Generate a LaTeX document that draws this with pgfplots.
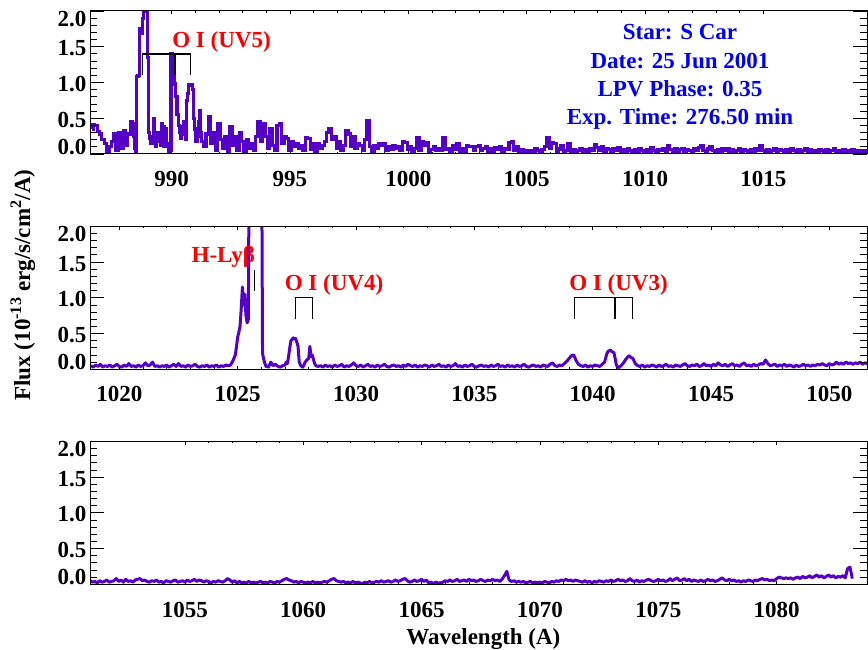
\documentclass[border=0pt]{standalone}
\usepackage{fontspec}
\setmainfont{Liberation Serif}
\usepackage{pgfplots}
\pgfplotsset{compat=1.18}
\definecolor{spec}{RGB}{85,0,200}
\newcommand\F{\fontsize{23bp}{27bp}\selectfont\bfseries}
\tikzset{brk/.style={black, line width=1.3bp}}
\pgfplotsset{
 panelA/.style={scale only axis, width=777bp, height=143bp, ymin=0, ymax=2,
   ytick=\empty, minor x tick num=4, major tick length=3.5bp, minor tick length=2bp,
   axis line style={line width=1bp}, tick style={black,line width=0.8bp},
   xticklabel style={font=\F, anchor=base, yshift=-32.7bp}},
 panelB/.style={scale only axis, width=777bp, height=143bp, ymin=0, ymax=2,
   xtick=\empty, ytick={0,0.5,1,1.5,2},
   yticklabels={\raisebox{9bp}[\height][\depth]{0.0},0.5,1.0,1.5,\raisebox{-6.5bp}[\height][\depth]{2.0}},
   minor y tick num=4, major tick length=14bp, minor tick length=7bp,
   axis line style={line width=1bp}, tick style={black,line width=0.8bp},
   yticklabel style={font=\F, yshift=-1.7bp}},
 spec1/.style={color=spec, line width=3.2bp, const plot mark mid},
 spec2/.style={color=spec, line width=3.0bp, line join=round}
}
\begin{document}
\begin{tikzpicture}
\useasboundingbox (0,0) rectangle (868bp,650bp);
% ---------------- Panel 1 ----------------
\begin{axis}[panelA, at={(90bp,496bp)}, anchor=south west, xmin=986.55, xmax=1019.38,
  xtick={990,995,1000,1005,1010,1015}, xticklabels={990,995,1000,1005,1010,1015}]
\addplot[spec1] coordinates {
(986.65,0.35)(986.7,0.41)(986.8,0.40)(986.9,0.32)(987.0,0.28)(987.1,0.20)(987.2,0.15)(987.3,0.02)(987.4,0.10)(987.5,0.18)
(987.6,0.29)(987.7,0.05)(987.8,0.30)(987.9,0.08)(988.0,0.33)(988.1,0.12)(988.2,0.28)(988.3,0.45)(988.35,0.42)(988.4,0.25)
(988.45,0.08)(988.5,0.02)(988.55,1.08)(988.6,1.10)(988.65,1.75)(988.7,1.72)(988.75,1.68)(988.8,1.90)(988.85,2.05)(988.9,2.10)
(988.95,2.00)(989.0,1.35)(989.05,0.30)(989.1,0.22)(989.15,0.15)(989.2,0.25)(989.25,0.50)(989.3,0.20)(989.35,0.10)(989.4,0.30)
(989.45,0.28)(989.5,0.18)(989.55,0.12)(989.6,0.42)(989.65,0.38)(989.7,0.10)(989.75,0.35)(989.8,0.15)(989.85,0.10)(989.9,0.02)
(989.95,0.05)(990.0,1.40)(990.05,1.38)(990.1,1.15)(990.15,0.98)(990.2,0.80)(990.25,0.55)(990.3,0.40)(990.35,0.30)(990.4,0.22)
(990.45,0.38)(990.5,0.28)(990.55,0.45)(990.6,0.20)(990.65,0.75)(990.7,0.85)(990.75,0.97)(990.8,0.96)(990.85,0.97)(990.9,0.90)
(990.95,0.50)(991.0,0.35)(991.05,0.18)(991.1,0.25)(991.15,0.45)(991.2,0.60)(991.25,0.30)(991.3,0.18)
(991.4,0.10)(991.5,0.28)(991.6,0.52)(991.7,0.15)(991.8,0.30)(991.9,0.05)(992.0,0.43)(992.1,0.20)(992.2,0.08)(992.3,0.25)
(992.4,0.02)(992.5,0.38)(992.6,0.12)(992.7,0.25)(992.8,0.05)(992.9,0.30)(993.0,0.18)(993.1,0.00)(993.2,0.20)(993.3,0.08)
(993.4,0.15)(993.5,0.05)(993.6,0.25)(993.7,0.45)(993.8,0.18)(993.9,0.42)(994.0,0.25)(994.1,0.08)(994.2,0.35)(994.3,0.12)
(994.4,0.05)(994.5,0.40)(994.6,0.43)(994.7,0.15)(994.8,0.25)(994.9,0.22)(995.0,0.05)(995.1,0.18)(995.2,0.10)(995.3,0.15)
(995.4,0.08)(995.5,0.12)(995.6,0.05)(995.7,0.23)(995.8,0.22)(995.9,0.06)(996.0,0.14)(996.1,0.03)(996.2,0.15)(996.3,0.08)
(996.4,0.12)(996.5,0.18)(996.6,0.30)(996.7,0.35)(996.8,0.20)(996.9,0.25)(997.0,0.08)(997.1,0.18)(997.2,0.05)(997.3,0.12)
(997.4,0.33)(997.5,0.28)(997.6,0.10)(997.7,0.25)(997.8,0.08)(997.9,0.15)(998.0,0.12)(998.1,0.05)(998.2,0.20)(998.3,0.47)
(998.4,0.10)(998.5,0.03)(998.6,0.12)(998.7,0.08)(998.8,0.15)(998.9,0.12)(999.0,0.14)(999.1,0.05)(999.2,0.10)(999.3,0.06)
(999.4,0.12)(999.5,0.08)(999.6,0.10)(999.7,0.05)(999.8,0.17)(999.9,0.16)(1000.0,0.06)(1000.1,0.10)(1000.2,0.04)(1000.3,0.08)
(1000.4,0.23)(1000.5,0.05)(1000.6,0.17)(1000.7,0.12)(1000.8,0.16)(1000.9,0.04)(1001.0,0.06)(1001.1,0.10)(1001.2,0.05)(1001.3,0.08)
(1001.4,0.05)(1001.5,0.23)(1001.6,0.06)(1001.7,0.08)(1001.8,0.03)(1001.9,0.12)(1002.0,0.06)(1002.1,0.15)(1002.2,0.04)(1002.3,0.07)
(1002.4,0.03)(1002.5,0.12)(1002.6,0.10)(1002.7,0.11)(1002.8,0.05)(1002.9,0.10)(1003.0,0.12)(1003.1,0.05)(1003.2,0.08)(1003.3,0.10)
(1003.4,0.04)(1003.5,0.07)(1003.6,0.03)(1003.7,0.09)(1003.8,0.06)(1003.9,0.10)(1004.0,0.04)(1004.1,0.08)(1004.2,0.06)(1004.3,0.16)
(1004.4,0.17)(1004.5,0.05)(1004.6,0.10)(1004.7,0.04)(1004.8,0.06)(1004.9,0.03)(1005.0,0.05)(1005.1,0.02)(1005.2,0.05)(1005.3,0.04)
(1005.4,0.08)(1005.5,0.05)(1005.6,0.03)(1005.7,0.06)(1005.8,0.10)(1005.9,0.23)(1006.0,0.08)(1006.1,0.16)(1006.2,0.15)(1006.3,0.04)
(1006.4,0.07)(1006.5,0.12)(1006.6,0.03)(1006.7,0.05)(1006.8,0.14)(1006.9,0.04)(1007.0,0.06)(1007.1,0.03)(1007.2,0.05)(1007.3,0.08)
(1007.4,0.04)(1007.5,0.06)(1007.6,0.02)(1007.7,0.07)(1007.8,0.05)(1007.9,0.13)(1008.0,0.09)(1008.1,0.05)(1008.2,0.10)(1008.3,0.04)
(1008.4,0.08)(1008.5,0.06)(1008.6,0.03)(1008.7,0.07)(1008.8,0.05)(1008.9,0.09)(1009.0,0.04)(1009.1,0.06)(1009.2,0.03)(1009.3,0.07)
(1009.4,0.05)(1009.5,0.02)(1009.6,0.06)(1009.7,0.04)(1009.8,0.08)(1009.9,0.05)(1010.0,0.03)(1010.1,0.06)(1010.2,0.04)(1010.3,0.09)
(1010.4,0.05)(1010.5,0.03)(1010.6,0.06)(1010.7,0.05)(1010.8,0.08)(1010.9,0.04)(1011.0,0.12)(1011.1,0.06)(1011.2,0.04)(1011.3,0.07)
(1011.4,0.03)(1011.5,0.06)(1011.6,0.08)(1011.7,0.04)(1011.8,0.06)(1011.9,0.05)(1012.0,0.03)(1012.1,0.07)(1012.2,0.05)(1012.3,0.09)
(1012.4,0.12)(1012.5,0.05)(1012.6,0.04)(1012.7,0.07)(1012.8,0.10)(1012.9,0.05)(1013.0,0.03)(1013.1,0.06)(1013.2,0.04)(1013.3,0.07)
(1013.4,0.05)(1013.5,0.08)(1013.6,0.04)(1013.7,0.06)(1013.8,0.03)(1013.9,0.05)(1014.0,0.07)(1014.1,0.04)(1014.2,0.06)(1014.3,0.05)
(1014.4,0.03)(1014.5,0.06)(1014.6,0.04)(1014.7,0.08)(1014.8,0.05)(1014.9,0.12)(1015.0,0.05)(1015.1,0.04)(1015.2,0.06)(1015.3,0.03)
(1015.4,0.05)(1015.5,0.07)(1015.6,0.04)(1015.7,0.06)(1015.8,0.05)(1015.9,0.03)(1016.0,0.06)(1016.1,0.04)(1016.2,0.07)(1016.3,0.05)
(1016.4,0.03)(1016.5,0.06)(1016.6,0.04)(1016.7,0.05)(1016.8,0.07)(1016.9,0.04)(1017.0,0.06)(1017.1,0.03)(1017.2,0.05)(1017.3,0.04)
(1017.4,0.06)(1017.5,0.05)(1017.6,0.03)(1017.7,0.06)(1017.8,0.04)(1017.9,0.05)(1018.0,0.07)(1018.1,0.04)(1018.2,0.05)(1018.3,0.03)
(1018.4,0.06)(1018.5,0.04)(1018.6,0.05)(1018.7,0.03)(1018.8,0.06)(1018.9,0.04)(1019.0,0.05)(1019.1,0.03)(1019.2,0.05)(1019.3,0.04)(1019.4,0.05)
};
\draw[brk] (axis cs:988.78,1.10) -- (axis cs:988.78,1.40) -- (axis cs:990.80,1.40) -- (axis cs:990.80,1.10);
\draw[brk] (axis cs:990.14,1.40) -- (axis cs:990.14,1.10);
\end{axis}
\begin{axis}[panelB, at={(90bp,496bp)}, anchor=south west, xmin=986.55, xmax=1019.38]
\end{axis}
% ---------------- Panel 2 ----------------
\begin{axis}[panelA, at={(90bp,280.7bp)}, anchor=south west, xmin=1018.76, xmax=1051.59,
  xtick={1020,1025,1030,1035,1040,1045,1050}, xticklabels={1020,1025,1030,1035,1040,1045,1050}]
\addplot[spec2] coordinates {
(1018.8,0.05)(1018.9,0.03)(1019.0,0.06)(1019.1,0.04)(1019.2,0.07)(1019.3,0.03)(1019.4,0.05)(1019.5,0.04)(1019.6,0.06)(1019.7,0.03)
(1019.8,0.05)(1019.9,0.07)(1020.0,0.04)(1020.1,0.03)(1020.2,0.06)(1020.3,0.04)(1020.4,0.08)(1020.5,0.04)(1020.6,0.05)(1020.7,0.03)
(1020.8,0.06)(1020.9,0.04)(1021.0,0.05)(1021.1,0.09)(1021.2,0.05)(1021.3,0.06)(1021.4,0.10)(1021.5,0.04)(1021.6,0.05)(1021.7,0.03)
(1021.8,0.05)(1021.9,0.04)(1022.0,0.06)(1022.1,0.03)(1022.2,0.05)(1022.3,0.07)(1022.4,0.04)(1022.5,0.08)(1022.6,0.04)(1022.7,0.05)
(1022.8,0.03)(1022.9,0.06)(1023.0,0.04)(1023.1,0.05)(1023.2,0.07)(1023.3,0.04)(1023.4,0.03)(1023.5,0.05)(1023.6,0.04)(1023.7,0.06)
(1023.8,0.03)(1023.9,0.05)(1024.0,0.04)(1024.1,0.06)(1024.2,0.03)(1024.3,0.05)(1024.4,0.04)(1024.5,0.06)(1024.6,0.05)(1024.7,0.06)
(1024.75,0.09)(1024.8,0.12)(1024.85,0.16)(1024.9,0.20)(1024.95,0.32)(1025.0,0.45)(1025.05,0.52)(1025.1,0.60)(1025.15,0.85)(1025.2,1.15)
(1025.25,0.90)(1025.3,1.05)(1025.35,0.75)(1025.4,0.65)(1025.45,0.70)(1025.5,4.0)(1025.75,4.0)(1026.0,4.0)(1026.05,0.22)(1026.1,0.14)
(1026.15,0.08)(1026.2,0.04)(1026.25,0.05)(1026.3,0.03)(1026.4,0.10)(1026.5,0.05)(1026.6,0.07)(1026.7,0.04)(1026.8,0.03)(1026.9,0.05)
(1027.0,0.06)(1027.05,0.10)(1027.1,0.08)(1027.15,0.18)(1027.2,0.30)(1027.25,0.40)(1027.3,0.42)(1027.35,0.44)(1027.4,0.42)(1027.45,0.43)
(1027.5,0.38)(1027.55,0.32)(1027.6,0.10)(1027.65,0.06)(1027.7,0.04)(1027.75,0.03)(1027.8,0.06)(1027.85,0.10)(1027.9,0.12)(1027.95,0.14)
(1028.0,0.15)(1028.05,0.32)(1028.1,0.18)(1028.15,0.20)(1028.2,0.14)(1028.25,0.08)(1028.3,0.05)(1028.4,0.04)(1028.5,0.05)
(1028.6,0.03)(1028.7,0.06)(1028.8,0.04)(1028.9,0.05)(1029.0,0.03)(1029.1,0.06)(1029.2,0.04)(1029.3,0.05)(1029.4,0.07)(1029.5,0.03)
(1029.6,0.05)(1029.7,0.04)(1029.8,0.06)(1029.9,0.09)(1030.0,0.05)(1030.1,0.04)(1030.2,0.06)(1030.3,0.03)(1030.4,0.05)(1030.5,0.07)
(1030.6,0.04)(1030.7,0.05)(1030.8,0.03)(1030.9,0.06)(1031.0,0.04)(1031.1,0.05)(1031.2,0.07)(1031.3,0.04)(1031.4,0.03)(1031.5,0.05)
(1031.6,0.06)(1031.7,0.04)(1031.8,0.05)(1031.9,0.03)(1032.0,0.06)(1032.1,0.04)(1032.2,0.07)(1032.3,0.05)(1032.4,0.04)(1032.5,0.06)
(1032.6,0.03)(1032.7,0.05)(1032.8,0.04)(1032.9,0.06)(1033.0,0.05)(1033.1,0.03)(1033.2,0.06)(1033.3,0.04)(1033.4,0.05)(1033.5,0.07)
(1033.6,0.04)(1033.7,0.05)(1033.8,0.03)(1033.9,0.06)(1034.0,0.04)(1034.1,0.05)(1034.2,0.08)(1034.3,0.04)(1034.4,0.05)(1034.5,0.03)
(1034.6,0.06)(1034.7,0.04)(1034.8,0.05)(1034.9,0.07)(1035.0,0.04)(1035.1,0.03)(1035.2,0.05)(1035.3,0.06)(1035.4,0.04)(1035.5,0.05)
(1035.6,0.03)(1035.7,0.06)(1035.8,0.04)(1035.9,0.05)(1036.0,0.07)(1036.1,0.04)(1036.2,0.05)(1036.3,0.03)(1036.4,0.06)(1036.5,0.04)
(1036.6,0.05)(1036.7,0.03)(1036.8,0.06)(1036.9,0.04)(1037.0,0.05)(1037.1,0.07)(1037.2,0.04)(1037.3,0.03)(1037.4,0.05)(1037.5,0.06)
(1037.6,0.04)(1037.7,0.05)(1037.8,0.03)(1037.9,0.06)(1038.0,0.05)(1038.1,0.04)(1038.2,0.07)(1038.3,0.09)(1038.4,0.05)(1038.5,0.04)
(1038.6,0.06)(1038.7,0.05)(1038.8,0.08)(1038.9,0.11)(1039.0,0.15)(1039.1,0.19)(1039.2,0.20)(1039.3,0.12)(1039.4,0.07)(1039.5,0.05)
(1039.6,0.04)(1039.7,0.06)(1039.8,0.03)(1039.9,0.05)(1040.0,0.04)(1040.1,0.06)(1040.2,0.05)(1040.3,0.04)(1040.4,0.07)(1040.5,0.10)
(1040.6,0.22)(1040.65,0.25)(1040.7,0.26)(1040.75,0.27)(1040.8,0.25)(1040.85,0.24)(1040.9,0.23)(1040.95,0.15)(1041.0,0.06)(1041.1,0.02)
(1041.2,0.05)(1041.3,0.09)(1041.4,0.14)(1041.5,0.18)(1041.55,0.19)(1041.6,0.17)(1041.7,0.15)(1041.8,0.08)(1041.9,0.05)(1042.0,0.04)
(1042.1,0.06)(1042.2,0.03)(1042.3,0.05)(1042.4,0.04)(1042.5,0.06)(1042.6,0.05)(1042.7,0.03)(1042.8,0.06)(1042.9,0.04)(1043.0,0.05)
(1043.1,0.07)(1043.2,0.04)(1043.3,0.05)(1043.4,0.03)(1043.5,0.06)(1043.6,0.05)(1043.7,0.04)(1043.8,0.06)(1043.9,0.08)(1044.0,0.05)
(1044.1,0.04)(1044.2,0.06)(1044.3,0.05)(1044.4,0.07)(1044.5,0.04)(1044.6,0.05)(1044.7,0.08)(1044.8,0.05)(1044.9,0.06)(1045.0,0.04)
(1045.1,0.07)(1045.2,0.05)(1045.3,0.09)(1045.4,0.06)(1045.5,0.05)(1045.6,0.07)(1045.7,0.04)(1045.8,0.06)(1045.9,0.08)(1046.0,0.05)
(1046.1,0.06)(1046.2,0.04)(1046.3,0.07)(1046.4,0.09)(1046.5,0.05)(1046.6,0.06)(1046.7,0.04)(1046.8,0.07)(1046.9,0.05)(1047.0,0.06)
(1047.1,0.08)(1047.2,0.07)(1047.3,0.13)(1047.4,0.08)(1047.5,0.05)(1047.6,0.06)(1047.7,0.07)(1047.8,0.04)(1047.9,0.06)(1048.0,0.05)
(1048.1,0.07)(1048.2,0.04)(1048.3,0.06)(1048.4,0.05)(1048.5,0.03)(1048.6,0.06)(1048.7,0.04)(1048.8,0.05)(1048.9,0.07)(1049.0,0.05)
(1049.1,0.06)(1049.2,0.04)(1049.3,0.06)(1049.4,0.05)(1049.5,0.07)(1049.6,0.06)(1049.7,0.08)(1049.8,0.06)(1049.9,0.05)(1050.0,0.08)
(1050.1,0.06)(1050.2,0.07)(1050.3,0.10)(1050.4,0.07)(1050.5,0.09)(1050.6,0.07)(1050.7,0.10)(1050.8,0.08)(1050.9,0.09)(1051.0,0.07)
(1051.1,0.09)(1051.2,0.08)(1051.3,0.10)(1051.4,0.07)(1051.5,0.09)(1051.6,0.08)
};
\draw[brk] (axis cs:1025.72,1.10) -- (axis cs:1025.72,1.39);
\draw[brk] (axis cs:1027.43,0.70) -- (axis cs:1027.43,1.00) -- (axis cs:1028.16,1.00) -- (axis cs:1028.16,0.70);
\draw[brk] (axis cs:1039.23,0.70) -- (axis cs:1039.23,1.00) -- (axis cs:1041.69,1.00) -- (axis cs:1041.69,0.70);
\draw[brk] (axis cs:1040.94,1.00) -- (axis cs:1040.94,0.70);
\end{axis}
\begin{axis}[panelB, at={(90bp,280.7bp)}, anchor=south west, xmin=1018.76, xmax=1051.59]
\end{axis}
% ---------------- Panel 3 ----------------
\begin{axis}[panelA, at={(90bp,65.7bp)}, anchor=south west, xmin=1050.99, xmax=1083.82,
  xtick={1055,1060,1065,1070,1075,1080}, xticklabels={1055,1060,1065,1070,1075,1080}]
\addplot[spec2] coordinates {
(1051.0,0.05)(1051.1,0.03)(1051.2,0.04)(1051.3,0.02)(1051.4,0.05)(1051.5,0.03)(1051.6,0.04)(1051.7,0.06)(1051.8,0.03)(1051.9,0.04)
(1052.0,0.05)(1052.1,0.08)(1052.2,0.04)(1052.3,0.06)(1052.4,0.03)(1052.5,0.07)(1052.6,0.04)(1052.7,0.05)(1052.8,0.03)(1052.9,0.06)
(1053.0,0.07)(1053.1,0.08)(1053.2,0.05)(1053.3,0.06)(1053.4,0.04)(1053.5,0.03)(1053.6,0.05)(1053.7,0.04)(1053.8,0.06)(1053.9,0.03)
(1054.0,0.04)(1054.1,0.02)(1054.2,0.05)(1054.3,0.04)(1054.4,0.03)(1054.5,0.05)(1054.6,0.06)(1054.7,0.03)(1054.8,0.04)(1054.9,0.05)
(1055.0,0.03)(1055.1,0.06)(1055.2,0.04)(1055.3,0.05)(1055.4,0.07)(1055.5,0.04)(1055.6,0.06)(1055.7,0.05)(1055.8,0.03)(1055.9,0.05)
(1056.0,0.04)(1056.1,0.02)(1056.2,0.04)(1056.3,0.03)(1056.4,0.05)(1056.5,0.04)(1056.6,0.03)(1056.7,0.05)(1056.8,0.08)(1056.9,0.06)
(1057.0,0.03)(1057.1,0.05)(1057.2,0.02)(1057.3,0.04)(1057.4,0.02)(1057.5,0.03)(1057.6,0.02)(1057.7,0.04)(1057.8,0.02)(1057.9,0.03)
(1058.0,0.02)(1058.1,0.03)(1058.2,0.04)(1058.3,0.02)(1058.4,0.03)(1058.5,0.02)(1058.6,0.04)(1058.7,0.03)(1058.8,0.02)(1058.9,0.04)
(1059.0,0.03)(1059.1,0.05)(1059.2,0.07)(1059.3,0.08)(1059.4,0.06)(1059.5,0.05)(1059.6,0.03)(1059.7,0.04)(1059.8,0.02)(1059.9,0.04)
(1060.0,0.03)(1060.1,0.02)(1060.2,0.03)(1060.3,0.02)(1060.4,0.04)(1060.5,0.02)(1060.6,0.03)(1060.7,0.02)(1060.8,0.03)(1060.9,0.04)
(1061.0,0.03)(1061.1,0.05)(1061.2,0.07)(1061.3,0.08)(1061.4,0.05)(1061.5,0.04)(1061.6,0.03)(1061.7,0.04)(1061.8,0.02)(1061.9,0.03)
(1062.0,0.02)(1062.1,0.04)(1062.2,0.02)(1062.3,0.03)(1062.4,0.02)(1062.5,0.01)(1062.6,0.03)(1062.7,0.02)(1062.8,0.04)(1062.9,0.02)
(1063.0,0.03)(1063.1,0.04)(1063.2,0.03)(1063.3,0.05)(1063.4,0.03)(1063.5,0.04)(1063.6,0.05)(1063.7,0.03)(1063.8,0.04)(1063.9,0.06)
(1064.0,0.04)(1064.1,0.05)(1064.2,0.07)(1064.3,0.08)(1064.4,0.05)(1064.5,0.03)(1064.6,0.04)(1064.7,0.06)(1064.8,0.04)(1064.9,0.05)
(1065.0,0.07)(1065.1,0.04)(1065.2,0.06)(1065.3,0.02)(1065.4,0.03)(1065.5,0.01)(1065.6,0.03)(1065.7,0.02)(1065.8,0.02)(1065.9,0.03)
(1066.0,0.05)(1066.1,0.04)(1066.2,0.06)(1066.3,0.04)(1066.4,0.05)(1066.5,0.07)(1066.6,0.04)(1066.7,0.05)(1066.8,0.06)(1066.9,0.04)
(1067.0,0.07)(1067.1,0.05)(1067.2,0.06)(1067.3,0.04)(1067.4,0.05)(1067.5,0.07)(1067.6,0.05)(1067.7,0.04)(1067.8,0.06)(1067.9,0.05)
(1068.0,0.07)(1068.1,0.05)(1068.2,0.06)(1068.3,0.04)(1068.4,0.07)(1068.5,0.12)(1068.6,0.18)(1068.7,0.06)(1068.8,0.04)(1068.9,0.05)
(1069.0,0.03)(1069.1,0.04)(1069.2,0.03)(1069.3,0.04)(1069.4,0.02)(1069.5,0.03)(1069.6,0.04)(1069.7,0.02)(1069.8,0.03)(1069.9,0.02)
(1070.0,0.03)(1070.1,0.02)(1070.2,0.04)(1070.3,0.03)(1070.4,0.02)(1070.5,0.04)(1070.6,0.03)(1070.7,0.05)(1070.8,0.04)(1070.9,0.06)
(1071.0,0.05)(1071.1,0.07)(1071.2,0.05)(1071.3,0.06)(1071.4,0.04)(1071.5,0.06)(1071.6,0.05)(1071.7,0.04)(1071.8,0.03)(1071.9,0.05)
(1072.0,0.03)(1072.1,0.04)(1072.2,0.02)(1072.3,0.04)(1072.4,0.03)(1072.5,0.05)(1072.6,0.04)(1072.7,0.03)(1072.8,0.05)(1072.9,0.04)
(1073.0,0.06)(1073.1,0.04)(1073.2,0.05)(1073.3,0.07)(1073.4,0.05)(1073.5,0.06)(1073.6,0.04)(1073.7,0.05)(1073.8,0.08)(1073.9,0.05)
(1074.0,0.04)(1074.1,0.06)(1074.2,0.03)(1074.3,0.05)(1074.4,0.04)(1074.5,0.06)(1074.6,0.07)(1074.7,0.05)(1074.8,0.04)(1074.9,0.05)
(1075.0,0.07)(1075.1,0.05)(1075.2,0.06)(1075.3,0.04)(1075.4,0.05)(1075.5,0.08)(1075.6,0.05)(1075.7,0.07)(1075.8,0.09)(1075.9,0.05)
(1076.0,0.06)(1076.1,0.08)(1076.2,0.05)(1076.3,0.07)(1076.4,0.04)(1076.5,0.06)(1076.6,0.05)(1076.7,0.04)(1076.8,0.06)(1076.9,0.04)
(1077.0,0.05)(1077.1,0.07)(1077.2,0.05)(1077.3,0.06)(1077.4,0.04)(1077.5,0.05)(1077.6,0.07)(1077.7,0.09)(1077.8,0.06)(1077.9,0.05)
(1078.0,0.07)(1078.1,0.05)(1078.2,0.06)(1078.3,0.04)(1078.4,0.05)(1078.5,0.03)(1078.6,0.05)(1078.7,0.04)(1078.8,0.06)(1078.9,0.05)
(1079.0,0.04)(1079.1,0.06)(1079.2,0.05)(1079.3,0.07)(1079.4,0.08)(1079.5,0.06)(1079.6,0.07)(1079.7,0.05)(1079.8,0.06)(1079.9,0.05)
(1080.0,0.08)(1080.1,0.10)(1080.2,0.09)(1080.3,0.08)(1080.4,0.09)(1080.5,0.08)(1080.6,0.09)(1080.7,0.07)(1080.8,0.09)(1080.9,0.10)
(1081.0,0.08)(1081.1,0.11)(1081.2,0.09)(1081.3,0.10)(1081.4,0.12)(1081.5,0.09)(1081.6,0.11)(1081.7,0.13)(1081.8,0.10)(1081.9,0.12)
(1082.0,0.09)(1082.1,0.11)(1082.2,0.13)(1082.3,0.10)(1082.4,0.12)(1082.5,0.09)(1082.6,0.11)(1082.7,0.10)(1082.8,0.12)(1082.9,0.09)
(1083.0,0.22)(1083.1,0.24)(1083.2,0.08)
};
\end{axis}
\begin{axis}[panelB, at={(90bp,65.7bp)}, anchor=south west, xmin=1050.99, xmax=1083.82]
\end{axis}
% ---------------- Texts ----------------
\node[anchor=base, text=blue, font=\F, inner sep=0pt] at (680bp,610bp) {Star: S Car};
\node[anchor=base, text=blue, font=\F, inner sep=0pt] at (680bp,581.7bp) {Date: 25 Jun 2001};
\node[anchor=base, text=blue, font=\F, inner sep=0pt] at (680bp,553.3bp) {LPV Phase: 0.35};
\node[anchor=base, text=blue, font=\F, inner sep=0pt] at (680bp,525bp) {Exp. Time: 276.50 min};
\node[anchor=base, text=red, font=\F, inner sep=0pt] at (221.5bp,602bp) {O I (UV5)};
\node[anchor=base, text=red, font=\F, inner sep=0pt] at (223.3bp,387.7bp) {H-Lyβ};
\node[anchor=base, text=red, font=\F, inner sep=0pt] at (334bp,359bp) {O I (UV4)};
\node[anchor=base, text=red, font=\F, inner sep=0pt] at (618.5bp,359bp) {O I (UV3)};
\node[anchor=base, font=\F, inner sep=0pt] at (483.4bp,5.5bp) {Wavelength (A)};
\node[anchor=base, rotate=90, font=\F, inner sep=0pt] at (30bp,365bp) {Flux (10\textsuperscript{-13} erg/s/cm\textsuperscript{2}/A)};
\end{tikzpicture}
\end{document}
